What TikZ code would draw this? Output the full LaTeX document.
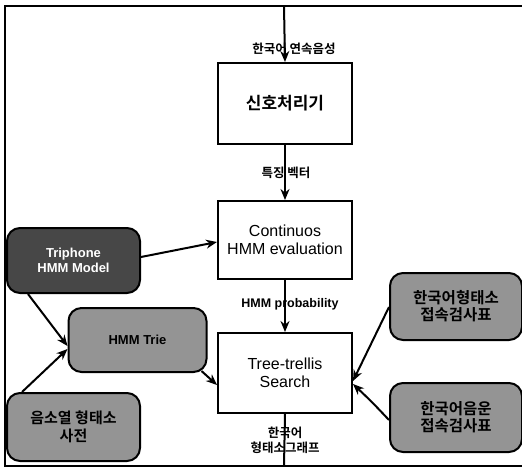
\documentclass[tikz,border=0pt]{standalone}
\usepackage{fontspec}
\setmainfont{Liberation Sans}
\newfontfamily\kr{Noto Sans CJK KR}[BoldFont={Noto Sans CJK KR Bold}]
\usetikzlibrary{arrows.meta}
\begin{document}
\begin{tikzpicture}[x=1pt,y=-1pt,
  proc/.style={draw,line width=2pt,minimum width=134pt,inner sep=0pt,align=center,font=\fontsize{16}{18}\selectfont},
  store/.style={draw,line width=2pt,rounded corners=13pt,fill=black!42,inner sep=0pt,align=center,minimum width=133pt},
  dark/.style={store,fill=black!72,text=white},
  lab/.style={font=\kr\bfseries\fontsize{12.5}{15}\selectfont,align=center,inner sep=0pt},
  elab/.style={font=\bfseries\fontsize{12.5}{15}\selectfont,inner sep=0pt},
  arr/.style={line width=2pt,-{Stealth[length=11pt,width=9pt]}},
  frame/.style={line width=2pt}]
\useasboundingbox (0,0) rectangle (522,469);
% frame
\coordinate (ftl) at (5,6);
\coordinate (ftr) at (522,6);
\coordinate (fbl) at (5,466);
\coordinate (fbr) at (522,466);
\coordinate (tin) at (284,6);
\coordinate (bout) at (284,466);
\draw[frame] (ftr) -- (ftl) -- (fbl) -- (fbr);
% main boxes
\node[proc,minimum height=81pt,font=\kr\bfseries\fontsize{17}{20}\selectfont] (sig) at (285,103.5) {신호처리기};
\node[proc,minimum height=78pt] (hmm) at (285,240) {Continuos\\HMM evaluation};
\node[proc,minimum height=80pt] (tree) at (285,373) {Tree-trellis\\Search};
% stores
\node[dark,minimum height=65pt,font=\bfseries\fontsize{13}{15}\selectfont] (tri) at (73.5,260.5) {Triphone\\HMM Model};
\node[store,minimum width=138pt,minimum height=64pt,font=\bfseries\fontsize{13}{15}\selectfont] (trie) at (137.5,340) {HMM Trie};
\node[store,minimum height=68pt,font=\kr\bfseries\fontsize{15}{18}\selectfont] (dict) at (73.5,427) {음소열 형태소\\사전};
\node[store,minimum width=132pt,minimum height=67pt,font=\kr\bfseries\fontsize{15.5}{17}\selectfont] (morph) at (456,306.5) {한국어형태소\\접속검사표};
\node[store,minimum width=132pt,minimum height=69pt,font=\kr\bfseries\fontsize{15.5}{17}\selectfont] (phon) at (456,417.5) {한국어음운\\접속검사표};
% labels
\node[lab] (l1) at (294,49) {한국어 연속음성};
\node[lab] (l2) at (286,173) {특징 벡터};
\node[elab] (l3) at (290,304) {HMM probability};
\node[lab] (l4) at (285,440) {한국어\\형태소그래프};
% main flow
\draw[arr] (tin) -- (sig.north);
\draw[arr] (sig.south) -- (hmm.north);
\draw[arr] (hmm.south) -- (tree.north);
\draw[frame] (tree.south) -- (bout);
% side arrows
\draw[arr] (tri.east |- 0,257) -- (hmm.west |- 0,242);
\draw[arr] (tri.south -| 28,0) -- (trie.west |- 0,346);
\draw[arr] (dict.north -| 22,0) -- (trie.west |- 0,349);
\draw[arr] (trie.south east) ++(-6,-2) -- (tree.west |- 0,385);
\draw[arr] (morph.west |- 0,307) -- (tree.east |- 0,381);
\draw[arr] (phon.west |- 0,420) .. controls (372,402) .. (tree.east |- 0,384);
\end{tikzpicture}
\end{document}
